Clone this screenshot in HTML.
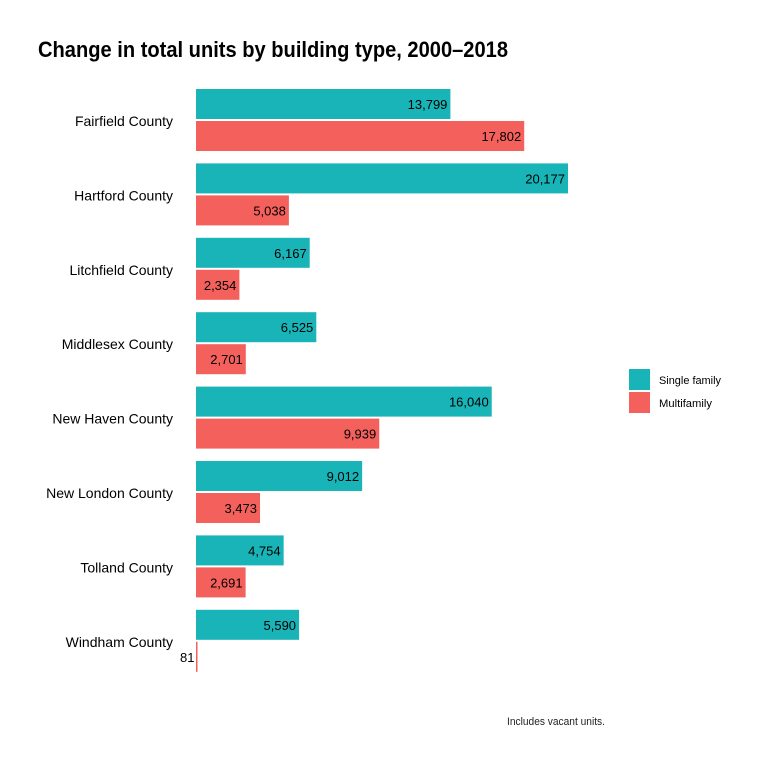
<!DOCTYPE html>
<html><head><meta charset="utf-8">
<style>
html,body{margin:0;padding:0;background:#fff;}
svg{display:block;font-family:"Liberation Sans Narrow","Liberation Sans",sans-serif;}
</style></head>
<body>
<svg id="chart" width="768" height="768" viewBox="0 0 768 768">
<text x="38" y="57" font-size="22" font-weight="bold" fill="#000" textLength="470" lengthAdjust="spacingAndGlyphs">Change in total units by building type, 2000–2018</text>
<g id="bars"></g>
<g>
<rect x="629" y="369" width="21" height="21" fill="#19b4b8"/>
<text x="659" y="384" font-size="11" textLength="62" lengthAdjust="spacingAndGlyphs">Single family</text>
<rect x="629" y="392" width="21" height="21" fill="#f4615c"/>
<text x="659" y="407" font-size="11" textLength="53" lengthAdjust="spacingAndGlyphs">Multifamily</text>
</g>
<text x="507" y="725" font-size="11" fill="#222" textLength="98" lengthAdjust="spacingAndGlyphs">Includes vacant units.</text>
</svg>
<script>
const categories = ["Fairfield County","Hartford County","Litchfield County","Middlesex County","New Haven County","New London County","Tolland County","Windham County"];
const singleFamily = [13799,20177,6167,6525,16040,9012,4754,5590];
const multifamily = [17802,5038,2354,2701,9939,3473,2691,81];

const NS = "http://www.w3.org/2000/svg";
const g = document.getElementById("bars");
const x0 = 196, pxPerUnit = 372/20177;
const xScale = v => x0 + v*pxPerUnit;
const rowY = i => 89 + i*74.4;
const barH = 30;
function mk(tag, attrs){const e=document.createElementNS(NS,tag);for(const k in attrs)e.setAttribute(k,attrs[k]);return e;}
function fmt(v){return v.toLocaleString("en-US");}
categories.forEach((c,i)=>{
  const y = rowY(i);
  const lab = mk("text",{x:173,y:y+37,"font-size":14,"text-anchor":"end",fill:"#000"});
  lab.textContent = c;
  
  
  g.appendChild(lab);
  [[singleFamily,"#19b4b8",0,"single"],[multifamily,"#f4615c",32,"multi"]].forEach(([arr,col,off,nm])=>{
    const v = arr[i];
    const r = mk("rect",{x:x0,y:y+off,width:Math.max(xScale(v)-x0,1.5),height:barH,fill:col});
    
    
    g.appendChild(r);
    const t = mk("text",{x:xScale(v)-3,y:y+off+20,"font-size":13,"text-anchor":"end",fill:"#000"});
    t.textContent = fmt(v);
    
    
    g.appendChild(t);
  });
});
</script>
</body></html>
